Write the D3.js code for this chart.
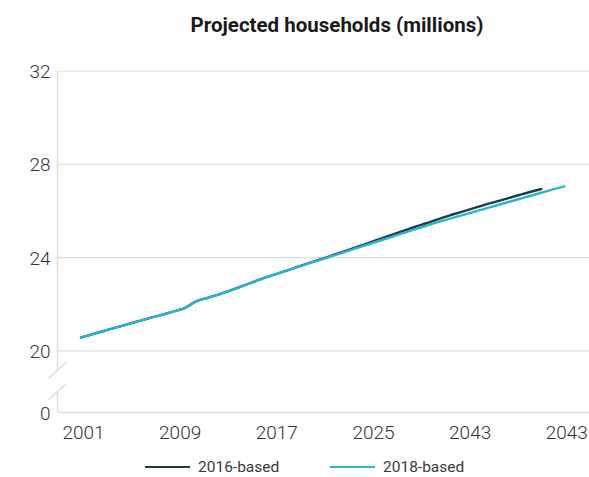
<!DOCTYPE html>
<html>
<head>
<meta charset="utf-8">
<script src="https://cdn.jsdelivr.net/npm/d3@7/dist/d3.min.js"></script>
<style>
  html, body { margin: 0; padding: 0; background: #fff; }
  svg { display: block; font-family: Roboto, "DejaVu Sans", sans-serif; }
</style>
</head>
<body>
<svg id="chart" width="589" height="477"></svg>
<script>
// Household projections, millions
const years2018 = d3.range(2001, 2044);
const values2018 = [
  20.57, 20.71, 20.85, 20.99, 21.13, 21.27, 21.41, 21.54, 21.68, 21.83,
  22.12, 22.27, 22.42, 22.59, 22.77, 22.96, 23.14, 23.30, 23.46, 23.62,
  23.78, 23.93, 24.09, 24.25, 24.41, 24.57, 24.73, 24.89, 25.05, 25.21,
  25.36, 25.52, 25.66, 25.80, 25.94, 26.08, 26.22, 26.36, 26.50, 26.64,
  26.78, 26.92, 27.05
];
const years2016 = d3.range(2001, 2042);
const values2016 = [
  20.57, 20.71, 20.85, 20.99, 21.13, 21.27, 21.41, 21.54, 21.68, 21.83,
  22.12, 22.27, 22.42, 22.59, 22.77, 22.96, 23.14, 23.30, 23.46, 23.63,
  23.79, 23.95, 24.12, 24.29, 24.46, 24.63, 24.80, 24.97, 25.14, 25.31,
  25.47, 25.64, 25.80, 25.95, 26.10, 26.25, 26.39, 26.53, 26.67, 26.81,
  26.94
];
const yTicks = [0, 20, 24, 28, 32];
const xTickLabels = ["2001", "2009", "2017", "2025", "2043", "2043"];
const seriesNames = ["2016-based", "2018-based"];
const seriesColors = ["#173d52", "#2ab4d2"];

const svg = d3.select("#chart");
const left = 57.5, right = 589;

const x = d3.scaleLinear().domain([2001, 2043]).range([81, 564.3]);
// broken value axis: 0 sits below a gap, 20–32 spans the plot
const y = d3.scaleLinear().domain([0, 20, 32]).range([412.5, 350.8, 71]);

const grid = "#dcdcdc";

// horizontal gridlines
svg.append("g")
  .selectAll("line")
  .data(yTicks.filter(d => d > 0))
  .join("line")
  .attr("x1", left).attr("x2", right)
  .attr("y1", d => y(d)).attr("y2", d => y(d))
  .attr("stroke", grid).attr("stroke-width", 1.2);

// baseline at zero
svg.append("line")
  .attr("x1", left).attr("x2", right)
  .attr("y1", y(0)).attr("y2", y(0))
  .attr("stroke", grid).attr("stroke-width", 1.5);

// vertical axis line with a break between 0 and 20
const breakTop = 370.5, breakBottom = 391.7;
svg.append("line")
  .attr("x1", left).attr("x2", left)
  .attr("y1", y(32)).attr("y2", breakTop)
  .attr("stroke", grid).attr("stroke-width", 1.5);
svg.append("line")
  .attr("x1", left).attr("x2", left)
  .attr("y1", breakBottom).attr("y2", y(0))
  .attr("stroke", grid).attr("stroke-width", 1.5);
svg.append("g")
  .selectAll("line")
  .data([breakTop, breakBottom])
  .join("line")
  .attr("x1", left - 9).attr("x2", left + 8.5)
  .attr("y1", d => d + 8).attr("y2", d => d - 8)
  .attr("stroke", grid).attr("stroke-width", 1.5);

// y axis labels
const yAxis = d3.axisLeft(y).tickValues(yTicks).tickSize(0).tickPadding(0).tickFormat(d3.format("d"));
const gy = svg.append("g").attr("transform", `translate(${left - 7},0)`).call(yAxis);
gy.select(".domain").remove();
gy.selectAll("text")
  .attr("font-size", 19).attr("font-weight", 300).attr("fill", "#333")
  .attr("font-family", "Roboto, sans-serif")
  .attr("dy", "0.35em");

// x axis labels, evenly spread across the span
const xTickValues = d3.range(xTickLabels.length).map(i => 2001 + i * (2043 - 2001) / (xTickLabels.length - 1));
const xAxis = d3.axisBottom(x).tickValues(xTickValues).tickSize(0).tickPadding(0)
  .tickFormat((d, i) => xTickLabels[i]);
const gx = svg.append("g").attr("transform", `translate(2,${y(0) + 13})`).call(xAxis);
gx.select(".domain").remove();
gx.selectAll("text")
  .attr("font-size", 19).attr("font-weight", 300).attr("fill", "#333")
  .attr("font-family", "Roboto, sans-serif");

// lines
const line = d3.line().x(d => x(d[0])).y(d => y(d[1])).curve(d3.curveMonotoneX);
const series = [
  { name: seriesNames[0], color: seriesColors[0], pts: years2016.map((yr, i) => [yr, values2016[i]]) },
  { name: seriesNames[1], color: seriesColors[1], pts: years2018.map((yr, i) => [yr, values2018[i]]) }
];
svg.append("g")
  .selectAll("path")
  .data(series)
  .join("path")
  .attr("d", d => line(d.pts))
  .attr("fill", "none")
  .attr("stroke", d => d.color)
  .attr("stroke-width", 2.4)
  .attr("stroke-linecap", "round");

// title
svg.append("text")
  .attr("x", 337).attr("y", 32)
  .attr("text-anchor", "middle")
  .attr("font-size", 20.5).attr("font-weight", 700)
  .attr("fill", "#1a1a1a")
  .text("Projected households (millions)");

// legend
const legendX = [145, 330];
const lg = svg.append("g")
  .selectAll("g")
  .data(series)
  .join("g")
  .attr("transform", (d, i) => `translate(${legendX[i]},467)`);
lg.append("line")
  .attr("x1", 0).attr("x2", 45)
  .attr("stroke", d => d.color).attr("stroke-width", 2);
lg.append("text")
  .attr("x", 53).attr("y", 0).attr("dy", "0.35em")
  .attr("font-size", 15.5).attr("fill", "#3a3a3a")
  .text(d => d.name);
</script>
</body>
</html>
